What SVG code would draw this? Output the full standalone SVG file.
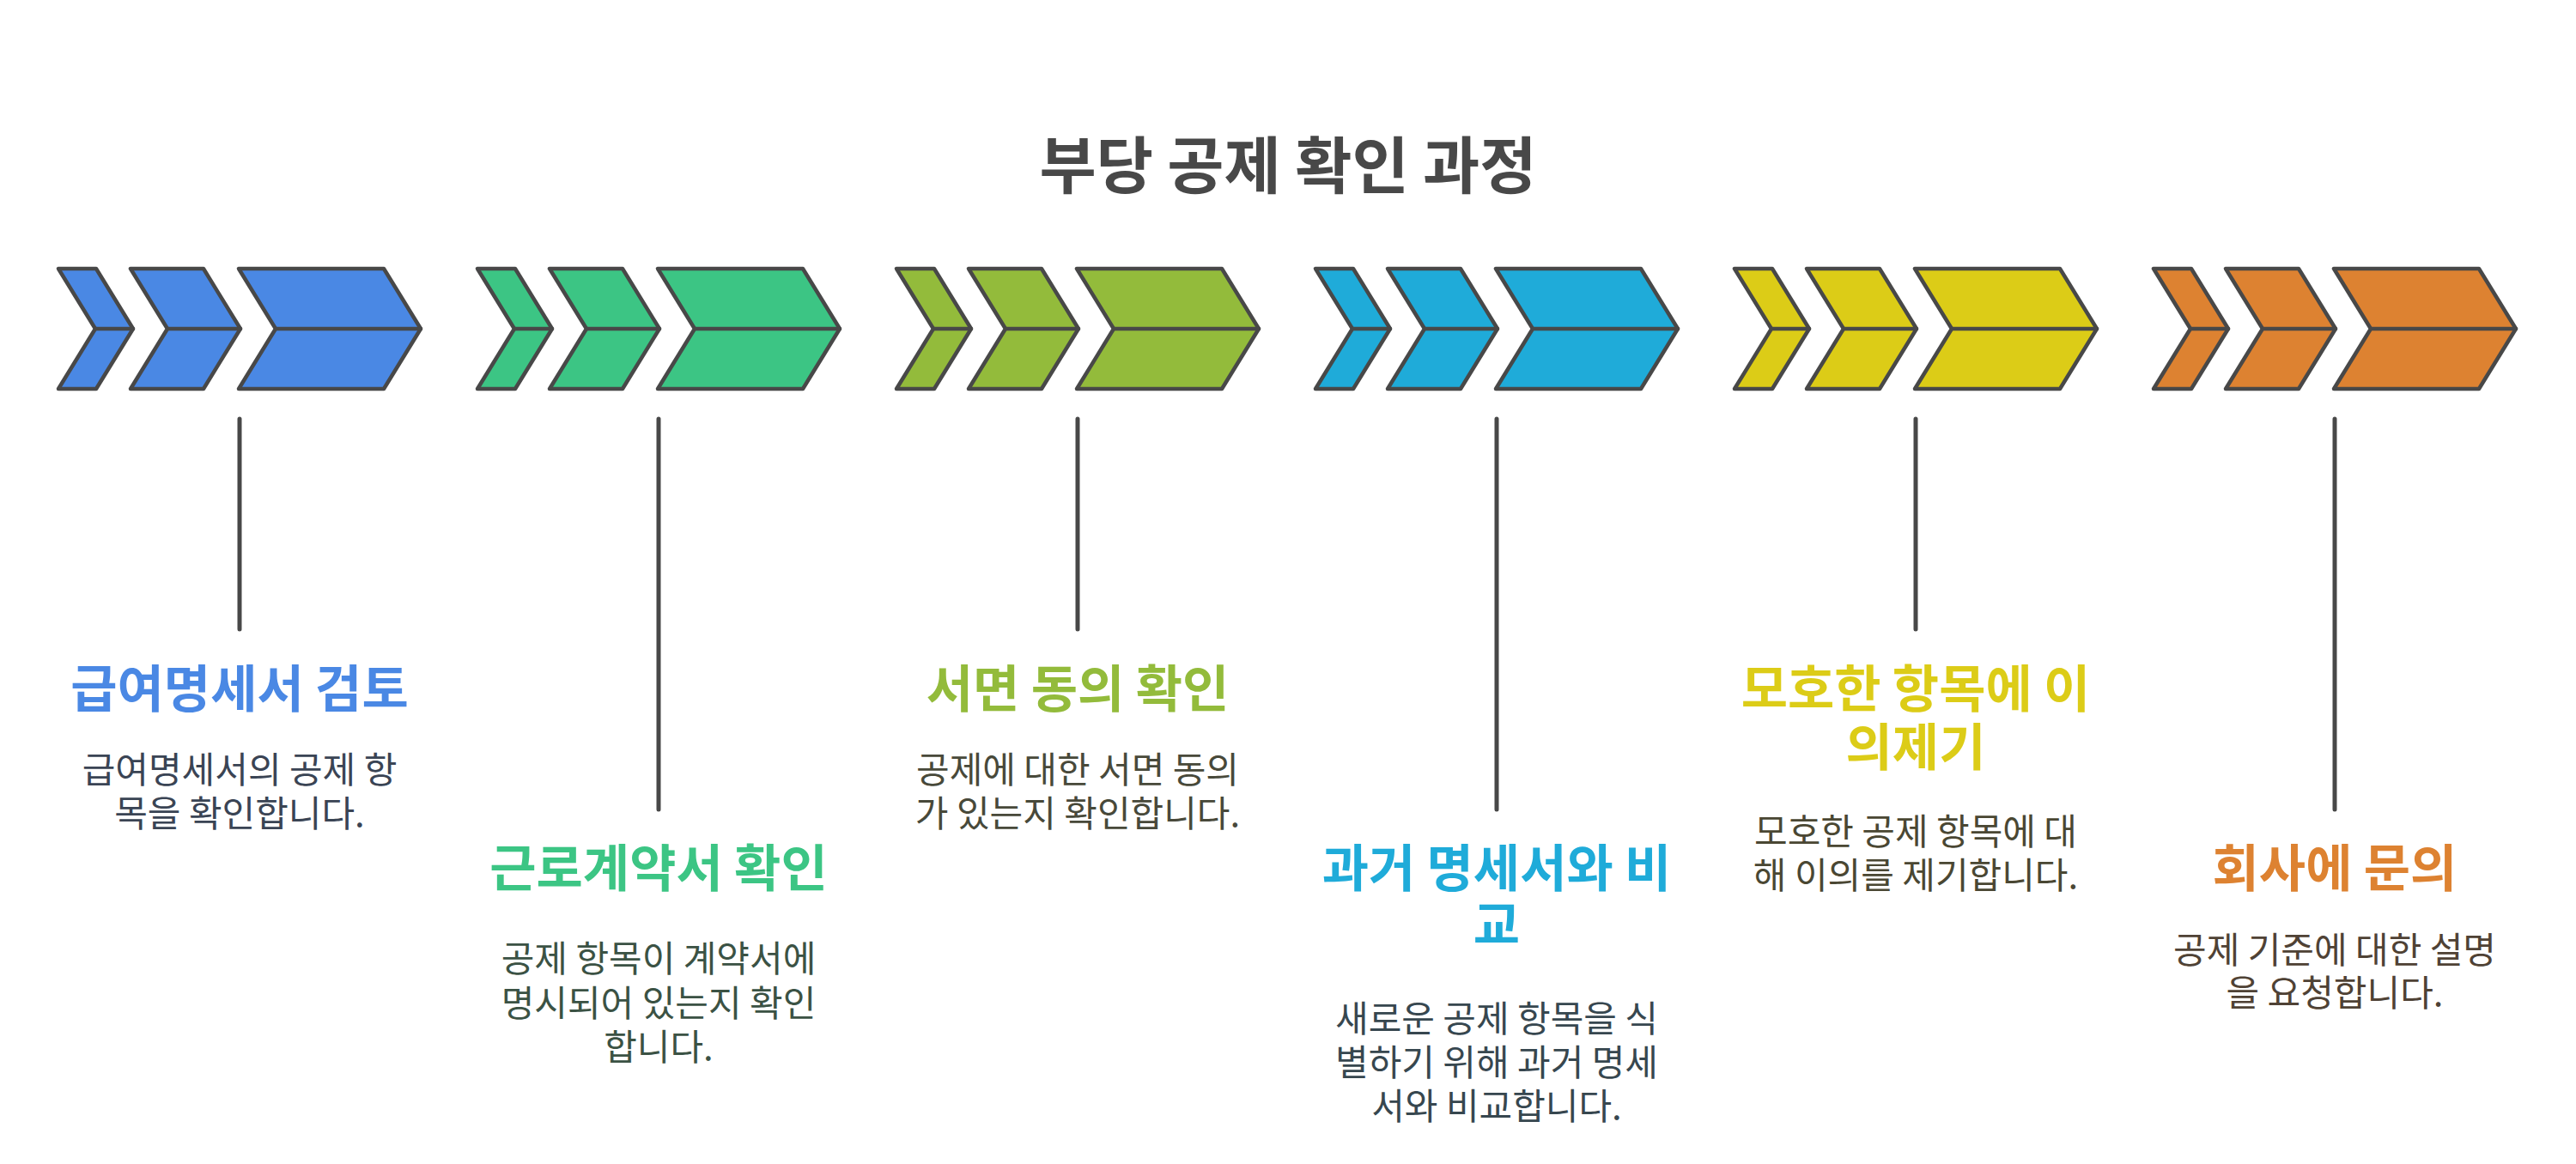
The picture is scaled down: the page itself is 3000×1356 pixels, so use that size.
<svg xmlns="http://www.w3.org/2000/svg" width="3000" height="1356" viewBox="0 0 3000 1356">
<defs>
<style>
.bg{fill:#ffffff}
.chev{stroke:#484848;stroke-width:4.5;stroke-linejoin:round;stroke-linecap:round}
.mid{fill:none;stroke:#484848;stroke-width:4.5;stroke-linecap:round}
.conn{fill:none;stroke:#484848;stroke-width:5;stroke-linecap:round}
.ttl{font-family:"Noto Sans CJK KR","Noto Sans",sans-serif;font-weight:700;font-size:72px;fill:#484848;text-anchor:middle}
.nt{font-family:"Noto Sans CJK KR","Noto Sans",sans-serif;font-weight:700;font-size:59px;text-anchor:middle}
.nd{font-family:"Noto Sans CJK KR","Noto Sans",sans-serif;font-weight:400;font-size:42px;text-anchor:middle}
.c1{fill:#4a88e4}.c2{fill:#3cc584}.c3{fill:#93bb3b}.c4{fill:#1fabd9}.c5{fill:#dccc17}.c6{fill:#dd8231}
.d1{fill:#3a4454}.d2{fill:#3b5244}.d3{fill:#48493a}.d4{fill:#37474f}.d5{fill:#4a4733}.d6{fill:#4f4235}
</style>
<g id="chevrons">
<path class="chev" d="M68,313 L112,313 L155,383 L112,453 L68,453 L111,383 Z"/>
<path class="chev" d="M152,313 L237,313 L280,383 L237,453 L152,453 L195,383 Z"/>
<path class="chev" d="M278,313 L447,313 L490,383 L447,453 L278,453 L321,383 Z"/>
<path class="mid" d="M111,383 L155,383 M195,383 L280,383 M321,383 L490,383"/>
</g>
</defs>
<rect class="bg" x="0" y="0" width="3000" height="1356"/>
<text class="ttl" x="1500" y="219">부당 공제 확인 과정</text>

<g id="connectors">
<line class="conn" x1="279" y1="488" x2="279" y2="733"/>
<line class="conn" x1="767" y1="488" x2="767" y2="943"/>
<line class="conn" x1="1255" y1="488" x2="1255" y2="733"/>
<line class="conn" x1="1743" y1="488" x2="1743" y2="943"/>
<line class="conn" x1="2231" y1="488" x2="2231" y2="733"/>
<line class="conn" x1="2719" y1="488" x2="2719" y2="943"/>
</g>

<g id="node1">
<use href="#chevrons" class="c1"/>
<text class="nt c1" x="279" y="824">급여명세서 검토</text>
<text class="nd d1" x="279" y="912"><tspan x="279" y="912">급여명세서의 공제 항</tspan><tspan x="279" y="963">목을 확인합니다.</tspan></text>
</g>

<g id="node2">
<use href="#chevrons" class="c2" x="488"/>
<text class="nt c2" x="767" y="1033">근로계약서 확인</text>
<text class="nd d2" x="767" y="1132"><tspan x="767" y="1132">공제 항목이 계약서에</tspan><tspan x="767" y="1184">명시되어 있는지 확인</tspan><tspan x="767" y="1235">합니다.</tspan></text>
</g>

<g id="node3">
<use href="#chevrons" class="c3" x="976"/>
<text class="nt c3" x="1255" y="824">서면 동의 확인</text>
<text class="nd d3" x="1255" y="912"><tspan x="1255" y="912">공제에 대한 서면 동의</tspan><tspan x="1255" y="963">가 있는지 확인합니다.</tspan></text>
</g>

<g id="node4">
<use href="#chevrons" class="c4" x="1464"/>
<text class="nt c4" x="1743" y="1033"><tspan x="1743" y="1033">과거 명세서와 비</tspan><tspan x="1743" y="1099">교</tspan></text>
<text class="nd d4" x="1743" y="1202"><tspan x="1743" y="1202">새로운 공제 항목을 식</tspan><tspan x="1743" y="1253">별하기 위해 과거 명세</tspan><tspan x="1743" y="1304">서와 비교합니다.</tspan></text>
</g>

<g id="node5">
<use href="#chevrons" class="c5" x="1952"/>
<text class="nt c5" x="2231" y="824"><tspan x="2231" y="824">모호한 항목에 이</tspan><tspan x="2231" y="892">의제기</tspan></text>
<text class="nd d5" x="2231" y="984"><tspan x="2231" y="984">모호한 공제 항목에 대</tspan><tspan x="2231" y="1035">해 이의를 제기합니다.</tspan></text>
</g>

<g id="node6">
<use href="#chevrons" class="c6" x="2440"/>
<text class="nt c6" x="2719" y="1033">회사에 문의</text>
<text class="nd d6" x="2719" y="1122"><tspan x="2719" y="1122">공제 기준에 대한 설명</tspan><tspan x="2719" y="1172">을 요청합니다.</tspan></text>
</g>
</svg>
